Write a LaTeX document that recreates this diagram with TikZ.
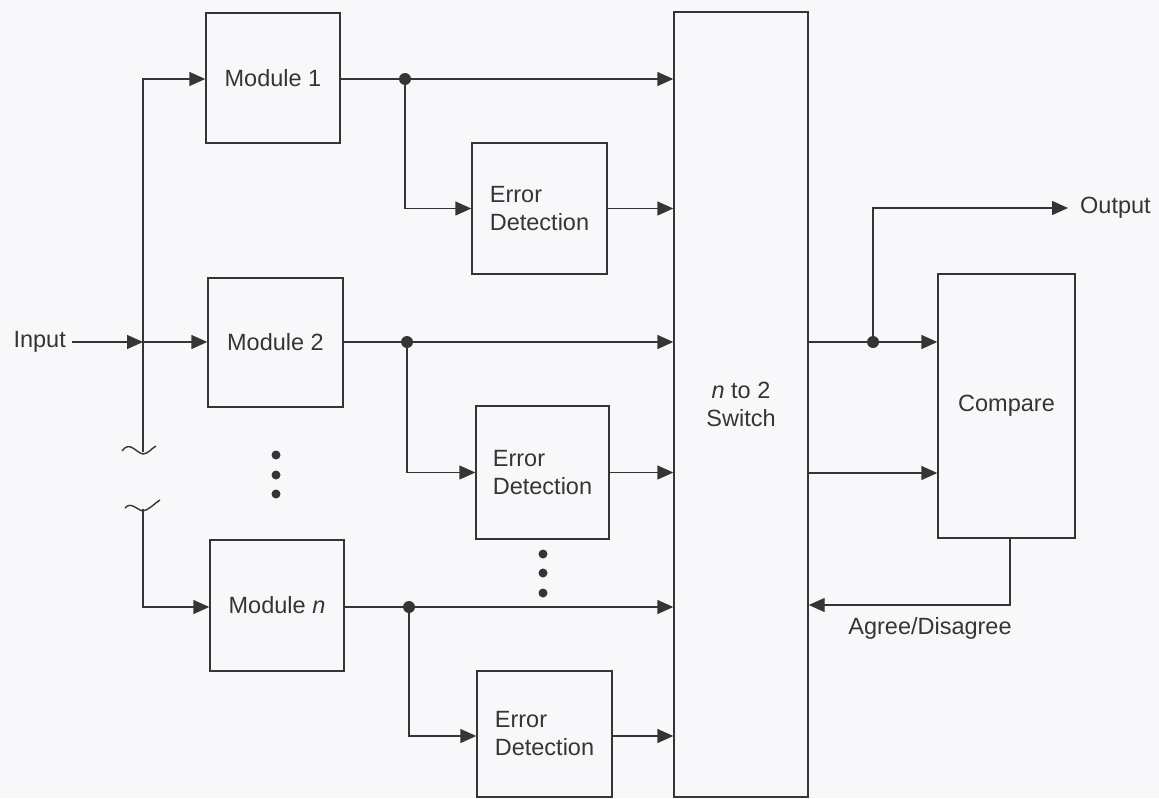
\documentclass[tikz,border=0pt]{standalone}
\usepackage{fontspec}
\setmainfont{Liberation Sans}
\usetikzlibrary{arrows.meta}
\definecolor{ink}{HTML}{353535}
\definecolor{paper}{HTML}{F8F8FA}
\tikzset{
  box/.style={draw=ink, line width=1.4pt, rectangle, inner sep=0pt, text=ink},
  wire/.style={draw=ink, line width=1.4pt},
  arr/.style={wire, -{Triangle[length=16pt,width=14pt]}},
  jdot/.style={circle, fill=ink, inner sep=0pt, minimum size=12pt},
  edot/.style={circle, fill=ink, inner sep=0pt, minimum size=9pt},
  lbl/.style={text=ink, inner sep=2pt},
}
\begin{document}
\begin{tikzpicture}[x=1pt,y=-1pt, font=\fontsize{23.5}{28}\selectfont]
\fill[paper] (0,0) rectangle (1159,798);
\useasboundingbox (0,0) rectangle (1159,798);

% boxes
\node[box, minimum width=134pt, minimum height=130pt] (m1) at (273,78) {Module 1};
\node[box, minimum width=135pt, minimum height=129pt] (m2) at (275.5,342.5) {Module 2};
\node[box, minimum width=134pt, minimum height=131pt] (mn) at (277,605.5) {Module \textit{n}};
\node[box, minimum width=135pt, minimum height=131pt, align=left] (ed1) at (539.5,208.5) {Error\\Detection};
\node[box, minimum width=133pt, minimum height=133pt, align=left] (ed2) at (542.5,472.5) {Error\\Detection};
\node[box, minimum width=135pt, minimum height=126pt, align=left] (edn) at (544.5,734) {Error\\Detection};
\node[box, minimum width=134pt, minimum height=785pt, align=center] (sw) at (741,404.5) {\textit{n} to 2\\Switch};
\node[box, minimum width=137pt, minimum height=264pt] (cmp) at (1006.5,406) {Compare};

% labels
\node[lbl, anchor=east, inner sep=0pt] (in) at (66,342) {Input};
\node[lbl, anchor=west, inner sep=0pt] (out) at (1080,208) {Output};
\node[lbl] (ag) at (930,628) {Agree/Disagree};

% coordinates
\coordinate (j) at (143,342);
\coordinate (b1) at (143,452);
\coordinate (b2) at (143,509);
\coordinate (ot) at (1068,208);
\node[jdot] (d1) at (405,79) {};
\node[jdot] (d2) at (407,342) {};
\node[jdot] (d3) at (409,607) {};
\node[jdot] (d4) at (873,342) {};
\coordinate (o2) at (808,473);
\coordinate (fb) at (1010,605);

% input distribution
\draw[arr] ([xshift=6pt]in.east) -- (j);
\draw[arr] (j) -- (m2.west |- j);
\draw[arr] (b1) |- (m1.west |- 0,79);
\draw[arr] (b2) |- (mn.west |- 0,607);
% break marks
\draw[wire] (122,451) .. controls (130,440) and (136,453) .. (143,454) .. controls (148,454) and (152,448) .. (156,446);
\draw[wire] (125,508) .. controls (131,501) and (137,510) .. (143,511) .. controls (149,510) and (155,503) .. (160,500);

% module outputs
\draw[wire] (m1.east |- d1) -- (d1);
\draw[arr] (d1) -- (sw.west |- d1);
\draw[arr] (d1) |- (ed1.west);
\draw[arr] (ed1.east) -- (sw.west |- ed1.east);

\draw[wire] (m2.east |- d2) -- (d2);
\draw[arr] (d2) -- (sw.west |- d2);
\draw[arr] (d2) |- (ed2.west);
\draw[arr] (ed2.east) -- (sw.west |- ed2.east);

\draw[wire] (mn.east |- d3) -- (d3);
\draw[arr] (d3) -- (sw.west |- d3);
\draw[arr] (d3) |- (edn.west |- 0,736);
\draw[arr] (edn.east |- 0,736) -- (sw.west |- 0,736);

% ellipses
\foreach \y in {455,475,494} \node[edot] at (276,\y) {};
\foreach \y in {554,573,593} \node[edot] at (543,\y) {};

% switch outputs
\draw[wire] (sw.east |- d4) -- (d4);
\draw[arr] (d4) -- (cmp.west |- d4);
\draw[arr] (d4) |- (ot);
\draw[arr] (o2) -- (cmp.west |- o2);
\draw[arr] (cmp.south -| fb) |- (sw.east |- fb);
\end{tikzpicture}
\end{document}
